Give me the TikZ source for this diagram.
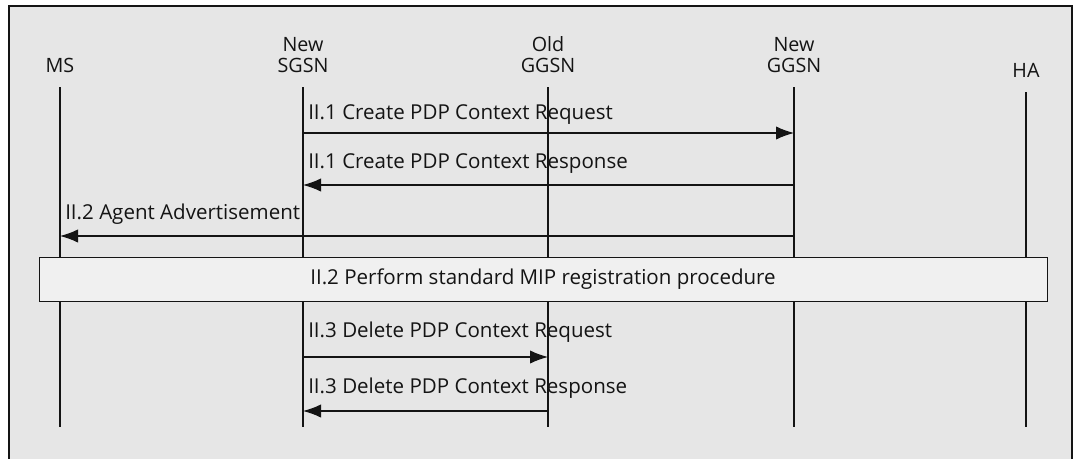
\documentclass[tikz,border=0pt]{standalone}
\usepackage{fontspec}
\setmainfont{Open Sans}
\usetikzlibrary{arrows.meta}
\definecolor{bg}{HTML}{E6E6E6}
\definecolor{boxfill}{HTML}{F0F0F0}
\definecolor{ink}{HTML}{141414}
\tikzset{
  lifeline/.style={draw=ink, line width=0.9pt},
  msg/.style={draw=ink, line width=0.9pt, -{Latex[length=13.5pt,width=10pt]}},
  entity/.style={inner sep=0pt, align=center, text depth=0pt, anchor=south, font=\fontsize{14.8pt}{16pt}\selectfont, text=ink},
  msglabel/.style={inner sep=0pt, anchor=base west, font=\fontsize{15.4pt}{18pt}\selectfont, text=ink},
  procbox/.style={draw=ink, line width=0.7pt, fill=boxfill, inner sep=0pt}
}
\begin{document}
\begin{tikzpicture}[x=0.75pt, y=-0.75pt]
\useasboundingbox (0,0) rectangle (1075,458);
\clip (0,0) rectangle (1075,458);
\fill[white] (0,0) rectangle (1075,458);
\draw[draw=ink, line width=0.8pt, fill=bg] (9,6) rectangle (1072,470);

% entity labels
\node[entity] (lms) at (60,73) {MS};
\node[entity] (lsgsn) at (303,73) {New\\SGSN};
\node[entity] (logg) at (548,73) {Old\\GGSN};
\node[entity] (lngg) at (794,73) {New\\GGSN};
\node[entity] (lha) at (1026,78) {HA};

% lifeline ends
\coordinate (ms) at (60,87);   \coordinate (msb) at (60,427);
\coordinate (sg) at (303,87);  \coordinate (sgb) at (303,427);
\coordinate (og) at (548,87);  \coordinate (ogb) at (548,427);
\coordinate (ng) at (794,87);  \coordinate (ngb) at (794,427);
\coordinate (ha) at (1026,92); \coordinate (hab) at (1026,427);

\draw[lifeline] (ms) -- (msb);
\draw[lifeline] (sg) -- (sgb);
\draw[lifeline] (og) -- (ogb);
\draw[lifeline] (ng) -- (ngb);
\draw[lifeline] (ha) -- (hab);

% message rows
\coordinate (r1) at (0,133);
\coordinate (r2) at (0,185);
\coordinate (r3) at (0,236);
\coordinate (r4) at (0,357);
\coordinate (r5) at (0,411);

\draw[msg] (sg |- r1) -- (ng |- r1);
\node[msglabel] (t1) at (308,119) {II.1 Create PDP Context Request};
\draw[msg] (ng |- r2) -- (sg |- r2);
\node[msglabel] (t2) at (308,168) {II.1 Create PDP Context Response};
\draw[msg] (ng |- r3) -- (ms |- r3);
\node[msglabel] (t3) at (65,219) {II.2 Agent Advertisement};

\node[procbox, minimum width=1008*0.75pt, minimum height=44*0.75pt] (proc) at (543,279) {};
\node[msglabel, anchor=center] (t4) at (proc.center) {II.2 Perform standard MIP registration procedure};

\draw[msg] (sg |- r4) -- (og |- r4);
\node[msglabel] (t5) at (308,337) {II.3 Delete PDP Context Request};
\draw[msg] (og |- r5) -- (sg |- r5);
\node[msglabel] (t6) at (308,393) {II.3 Delete PDP Context Response};
\end{tikzpicture}
\end{document}
